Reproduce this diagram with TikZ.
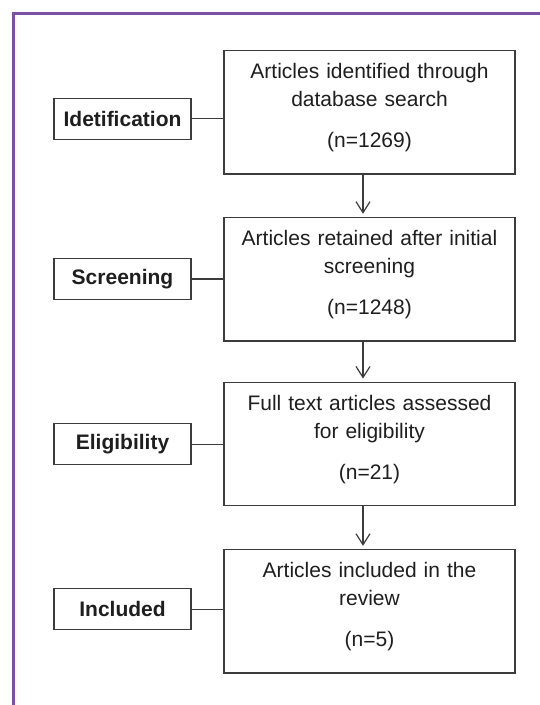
\documentclass[tikz,border=0pt]{standalone}
\usepackage{fontspec}
\setmainfont{Liberation Sans}
\usetikzlibrary{arrows.meta,positioning}
\definecolor{framepurple}{RGB}{125,80,162}
\definecolor{linegray}{RGB}{60,60,60}
\definecolor{textgray}{RGB}{30,30,30}

\begin{document}
\begin{tikzpicture}[x=1pt,y=-1pt,every node/.style={font=\fontsize{21}{28}\selectfont,text=textgray},
  stagebox/.style={draw=linegray,line width=1.3pt,minimum width=137pt,minimum height=41pt,inner sep=0pt,font=\fontsize{21}{28}\selectfont\bfseries},
  countbox/.style={draw=linegray,line width=1.4pt,minimum width=291pt,minimum height=123.5pt,text width=275pt,align=center,text depth=83pt},
  flow/.style={draw=linegray,line width=1.2pt,-{Straight Barb[length=11pt,width=14pt]},shorten >=3pt}]
\useasboundingbox (0,0) rectangle (540,705);
\draw[framepurple,line width=2.6pt] (540,13.5)--(13.5,13.5)--(13.5,705);
\node[countbox] (found) at (369.5,112.3) {Articles identified through\\database search\\[13pt](n=1269)};
\node[countbox] (screened) at (369.5,279.2) {Articles retained after initial\\screening\\[13pt](n=1248)};
\node[countbox] (eligible) at (369.5,444) {Full text articles assessed\\for eligibility\\[13pt](n=21)};
\node[countbox] (included) at (369.5,611.3) {Articles included in the\\review\\[13pt](n=5)};
\node[stagebox] (idlabel) at (122.5,118.8) {Idetification};
\node[stagebox] (scrlabel) at (122.5,279) {Screening};
\node[stagebox] (elilabel) at (122.5,444.3) {Eligibility};
\node[stagebox] (inclabel) at (122.5,609.2) {Included};
\draw[linegray,line width=1.2pt] (idlabel.east) -- (idlabel.east -| found.west);
\draw[linegray,line width=1.2pt] (scrlabel.east) -- (scrlabel.east -| screened.west);
\draw[linegray,line width=1.2pt] (elilabel.east) -- (elilabel.east -| eligible.west);
\draw[linegray,line width=1.2pt] (inclabel.east) -- (inclabel.east -| included.west);
\draw[flow] ([xshift=-6.5pt]found.south) -- ([xshift=-6.5pt]screened.north);
\draw[flow] ([xshift=-6.5pt]screened.south) -- ([xshift=-6.5pt]eligible.north);
\draw[flow] ([xshift=-6.5pt]eligible.south) -- ([xshift=-6.5pt]included.north);
\end{tikzpicture}
\end{document}
